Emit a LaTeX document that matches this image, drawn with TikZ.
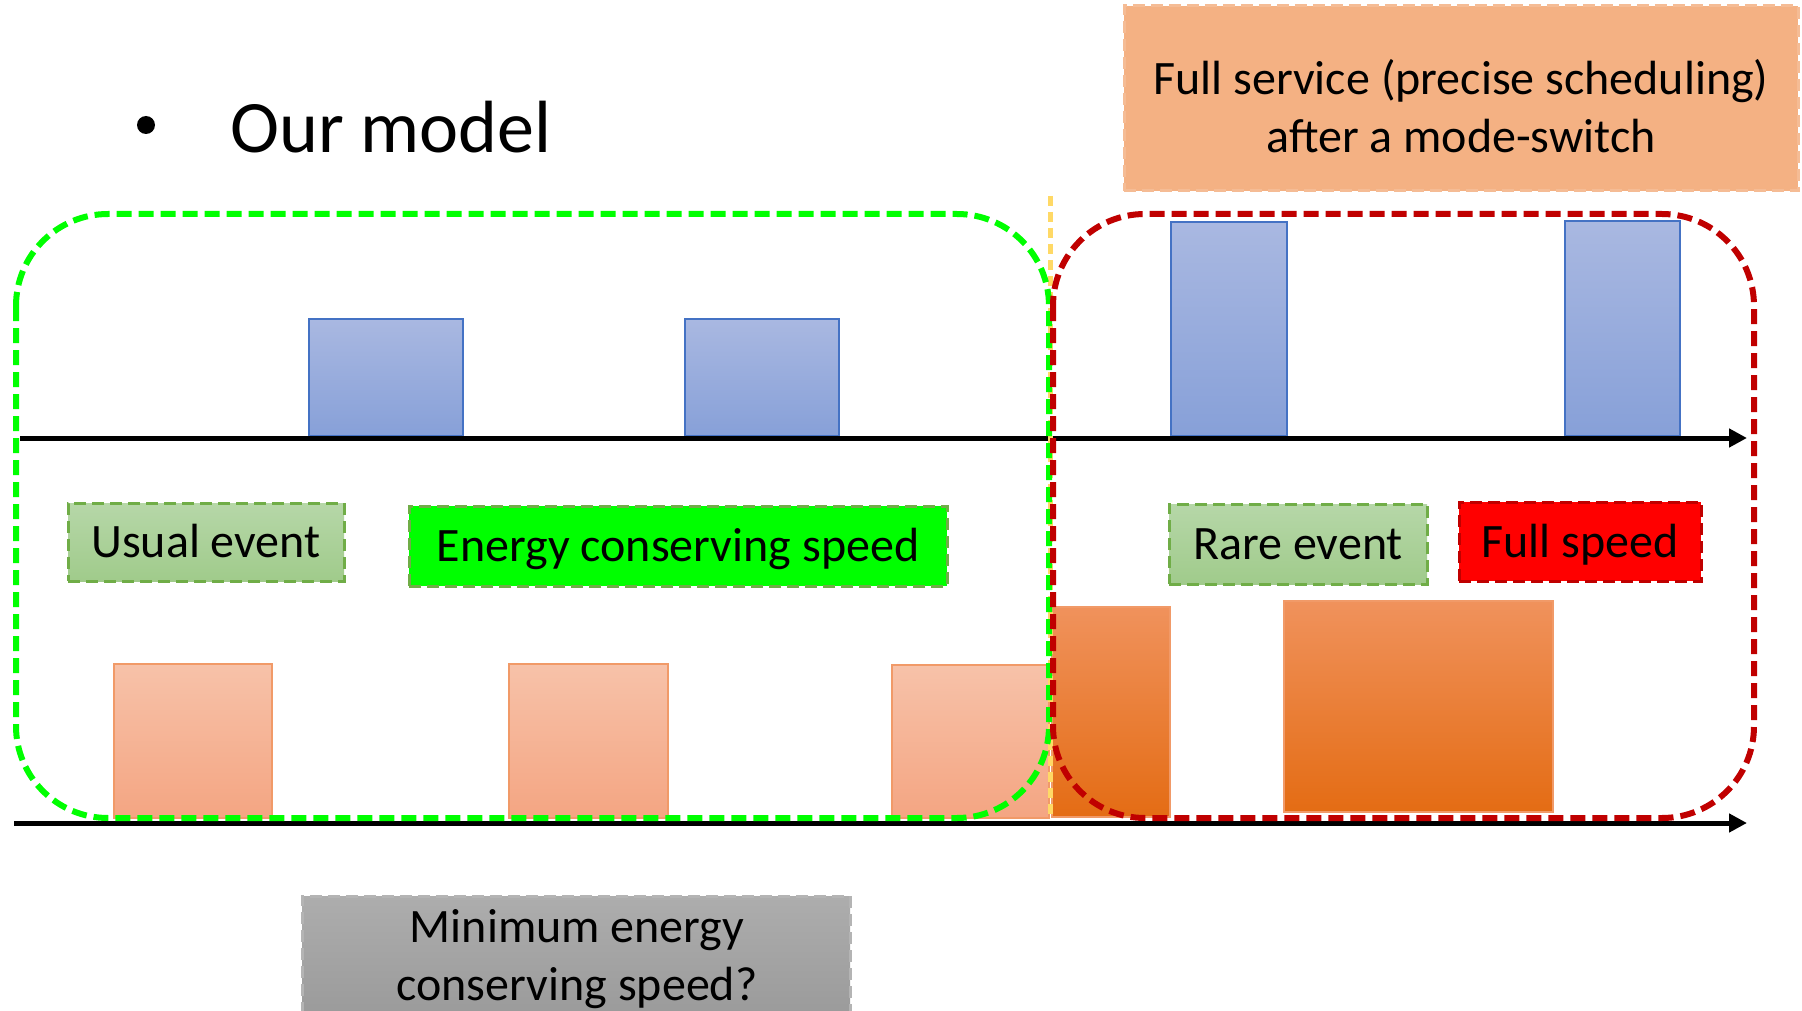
\documentclass[tikz,border=0pt]{standalone}
\usepackage{fontspec}
\setmainfont{Carlito}
\usetikzlibrary{arrows.meta}
\definecolor{blueT}{HTML}{A9B8E1}
\definecolor{blueB}{HTML}{87A0D8}
\definecolor{blueL}{HTML}{4472C4}
\definecolor{lorT}{HTML}{F7C2A9}
\definecolor{lorB}{HTML}{F4A582}
\definecolor{lorL}{HTML}{F19A68}
\definecolor{dorT}{HTML}{F0925C}
\definecolor{dorM}{HTML}{F47E2A}
\definecolor{dorB}{HTML}{E46C14}
\definecolor{dorL}{HTML}{F19A68}
\definecolor{fullF}{HTML}{F4B183}
\definecolor{fullL}{HTML}{F5BC95}
\definecolor{evT}{HTML}{B6D7A8}
\definecolor{evB}{HTML}{A0CB8B}
\definecolor{evL}{HTML}{70AD47}
\definecolor{brightG}{HTML}{00FF00}
\definecolor{darkR}{HTML}{C00000}
\definecolor{yel}{HTML}{FFD966}
\definecolor{grT}{HTML}{ADADAD}
\definecolor{grB}{HTML}{999999}
\definecolor{grL}{HTML}{B4B4B4}
\begin{document}
\begin{tikzpicture}[x=1pt,y=-1pt,
  lbl/.style={font=\fontsize{48}{58}\selectfont, text height=36pt, text depth=5pt, inner sep=0pt, outer sep=0pt},
  evbox/.style={lbl, line width=3pt, draw=evL, dash pattern=on 12pt off 6pt, top color=evT, bottom color=evB},
  txt/.style={font=\fontsize{48}{58}\selectfont, inner sep=0pt, anchor=base},
  bluebar/.style={draw=blueL, line width=1.5pt, top color=blueT, bottom color=blueB},
  lorbar/.style={draw=lorL, line width=1.5pt, top color=lorT, bottom color=lorB},
  dorbar/.style={draw=dorL, line width=1.5pt, top color=dorT, middle color=dorM, bottom color=dorB},
  axis/.style={line width=5pt, -{Triangle[length=18pt,width=18pt]}},
  zone/.style={line width=6pt, dash pattern=on 15pt off 7pt, rounded corners=92pt}
]
\clip (0,0) rectangle (1802,1011);
\fill[white] (0,0) rectangle (1802,1011);

% title
\node[circle, fill=black, inner sep=0pt, minimum size=18pt] (bullet) at (146,125) {};
\node[inner sep=0pt, anchor=base west, font=\fontsize{74}{88}\selectfont] (title) at (230,153) {Our model};

% full service box
\node[draw=fullL, fill=fullF, line width=3pt, dash pattern=on 12pt off 6pt,
      minimum width=674pt, minimum height=185pt, inner sep=0pt] (fullbox) at (1461,98.5) {};
\node[txt] (full1) at (1461,95) {Full service (precise scheduling)};
\node[txt] (full2) at (1461,153) {after a mode-switch};

% blue bars
\draw[bluebar] (309,319) rectangle (463,436);
\draw[bluebar] (685,319) rectangle (839,436);
\draw[bluebar] (1171,222) rectangle (1287,436);
\draw[bluebar] (1565,221) rectangle (1680,436);

% orange bars
\draw[lorbar] (114,664) rectangle (272,818);
\draw[lorbar] (509,664) rectangle (668,818);
\draw[lorbar] (892,665) rectangle (1049,818);
\draw[dorbar] (1052,607) rectangle (1170,817);
\draw[dorbar] (1284,601) rectangle (1553,812);

% axes
\coordinate (a1s) at (20,438);
\coordinate (a1e) at (1747,438);
\coordinate (a2s) at (14,823);
\coordinate (a2e) at (1747,823);
\draw[axis] (a1s) -- (a1e);
\draw[axis] (a2s) -- (a2e);

% mode switch line
\coordinate (ys) at (1050,196);
\coordinate (ye) at (1050,818);
\draw[yel, line width=5pt, dash pattern=on 10pt off 6pt] (ys) -- (ye);

% zones
\draw[zone, draw=brightG] (16,214) rectangle (1049,818);
\draw[zone, draw=darkR] (1053,214) rectangle (1754,818);

% labels
\node[evbox, minimum width=276pt, minimum height=78pt] (usual) at (206,542) {Usual event};
\node[lbl, fill=brightG, draw=evL, line width=3pt, dash pattern=on 12pt off 6pt,
      minimum width=538pt, minimum height=80pt] (energy) at (678,546) {Energy conserving speed};
\node[evbox, minimum width=258pt, minimum height=80pt] (rare) at (1298,544) {Rare event};
\node[lbl, fill=red, draw=darkR, line width=3pt, dash pattern=on 12pt off 6pt,
      minimum width=242pt, minimum height=79pt] (fullspeed) at (1580,541.5) {Full speed};

% minimum energy box
\node[draw=grL, line width=3pt, dash pattern=on 12pt off 6pt, top color=grT, bottom color=grB,
      minimum width=548pt, minimum height=130pt, inner sep=0pt] (minbox) at (576,961) {};
\node[txt] (min1) at (577,942) {Minimum energy};
\node[txt] (min2) at (577,1000) {conserving speed?};
\end{tikzpicture}
\end{document}
